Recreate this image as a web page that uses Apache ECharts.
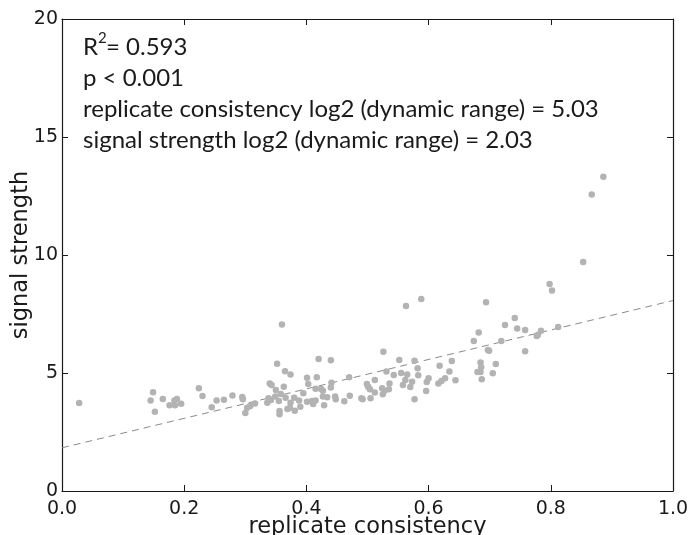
<!DOCTYPE html>
<html>
<head>
<meta charset="utf-8">
<script src="https://cdn.jsdelivr.net/npm/echarts@6/dist/echarts.min.js"></script>
<style>
html,body{margin:0;padding:0;background:#fff;}
#chart{width:689px;height:535px;}
</style>
</head>
<body>
<div id="chart"></div>
<script>
// replicate consistency (x) values
var xValues = [
0.028,0.149,0.145,0.152,0.165,0.176,0.184,0.188,0.185,0.195,0.224,0.230,0.245,0.253,0.265,0.279,0.295,0.296,0.300,0.303,0.308,0.316,
0.352,0.365,0.374,0.340,0.343,0.350,0.363,0.358,0.338,0.336,0.342,0.349,0.355,0.356,0.356,0.366,0.369,0.373,0.374,0.380,0.381,0.388,0.390,0.395,
0.401,0.403,0.401,0.409,0.411,0.415,0.417,0.420,0.415,0.424,0.427,0.427,0.429,0.434,0.440,0.441,0.440,0.447,0.448,0.462,0.470,0.471,
0.490,0.492,0.499,0.501,0.504,0.505,0.512,0.512,0.526,0.524,0.525,0.528,0.531,0.535,0.536,0.543,0.552,0.555,0.558,0.562,0.565,0.570,0.573,
0.577,0.577,0.582,0.583,0.596,0.597,0.600,0.618,0.616,0.621,0.627,0.634,0.360,0.563,0.588,
0.853,0.798,0.802,0.694,0.741,0.725,0.745,0.758,0.784,0.777,0.779,0.812,0.682,0.674,0.719,0.697,0.699,0.758,0.685,0.686,0.710,0.680,0.685,
0.687,0.705,0.638,0.644,0.886,0.867
];
// signal strength (y) values
var yValues = [
3.73,4.18,3.84,3.36,3.90,3.63,3.84,3.90,3.63,3.70,4.35,4.03,3.55,3.83,3.87,4.05,3.98,3.89,3.31,3.53,3.60,3.71,
5.39,5.07,4.94,4.56,4.49,4.28,4.42,4.11,3.93,3.74,3.86,4.00,3.81,3.39,3.25,3.95,3.47,3.53,3.74,3.95,3.40,3.83,3.57,4.14,
4.80,4.53,3.78,3.81,3.69,3.83,4.82,5.59,4.33,4.32,4.25,4.00,3.63,3.97,5.54,4.59,4.39,4.00,3.89,3.80,4.82,4.04,
3.93,3.89,4.53,4.42,4.31,3.93,4.70,4.17,5.90,4.35,4.10,4.25,5.06,4.31,4.56,4.92,5.55,5.00,4.49,4.70,4.94,4.41,4.63,
5.52,3.89,5.20,4.90,4.24,4.62,4.78,5.31,4.56,4.66,4.78,5.06,7.05,7.84,8.14,
9.70,8.77,8.50,8.00,7.33,7.03,6.89,6.82,6.79,6.57,6.62,6.95,6.72,6.36,6.36,5.97,5.94,5.92,5.45,5.24,5.38,5.04,5.04,
4.73,4.99,5.51,4.69,13.32,12.56
];
// regression line endpoints
var fitX = [0, 1];
var fitY = [1.83, 8.07];

var xTicks = ['0.0','0.2','0.4','0.6','0.8','1.0'];
var yTicks = ['0','5','10','15','20'];

var annotationLines = [
  'p < 0.001',
  'replicate consistency log2 (dynamic range) = 5.03',
  'signal strength log2 (dynamic range) = 2.03'
];
var r2Value = '= 0.593';

var points = xValues.map(function(x, i){ return [x, yValues[i]]; });
var fitData = fitX.map(function(x, i){ return [x, fitY[i]]; });

var chart = echarts.init(document.getElementById('chart'), null, {renderer:'canvas'});
var axisLineStyle = {color:'#1a1a1a', width:1.2};
var tickStyle = {color:'#1a1a1a', width:1};
var tickFont = {fontFamily:'DejaVu Sans', fontSize:19, color:'#1a1a1a'};
var annFont = 'Lato';
var annSize = 24;

var option = {
  backgroundColor:'#fff',
  animation:false,
  grid:{left:62, right:16, top:19, bottom:44, containLabel:false, outerBoundsMode:'none'},
  xAxis:[{
    type:'value', min:0, max:1, interval:0.2, position:'bottom',
    name:'replicate consistency', nameLocation:'middle', nameGap:25, nameMoveOverlap:false,
    nameTextStyle:{fontFamily:'DejaVu Sans', fontSize:22.5, color:'#1a1a1a'},
    axisLine:{show:true, onZero:false, lineStyle:axisLineStyle},
    axisTick:{show:true, inside:true, length:6, lineStyle:tickStyle},
    axisLabel:Object.assign({margin:9, formatter:function(v){ return xTicks[Math.round(v/0.2)]; }}, tickFont),
    splitLine:{show:false}
  },{
    type:'value', min:0, max:1, interval:0.2, position:'top',
    axisLine:{show:true, onZero:false, lineStyle:axisLineStyle},
    axisTick:{show:true, inside:true, length:6, lineStyle:tickStyle},
    axisLabel:{show:false}, splitLine:{show:false}
  }],
  yAxis:[{
    type:'value', min:0, max:20, interval:5, position:'left',
    name:'signal strength', nameLocation:'middle', nameGap:29, nameMoveOverlap:false,
    nameTextStyle:{fontFamily:'DejaVu Sans', fontSize:22.5, color:'#1a1a1a'},
    axisLine:{show:true, onZero:false, lineStyle:axisLineStyle},
    axisTick:{show:true, inside:true, length:6, lineStyle:tickStyle},
    axisLabel:Object.assign({margin:4, formatter:function(v){ return yTicks[Math.round(v/5)]; }}, tickFont),
    splitLine:{show:false}
  },{
    type:'value', min:0, max:20, interval:5, position:'right',
    axisLine:{show:true, onZero:false, lineStyle:axisLineStyle},
    axisTick:{show:true, inside:true, length:6, lineStyle:tickStyle},
    axisLabel:{show:false}, splitLine:{show:false}
  }],
  series:[{
    type:'scatter', xAxisIndex:0, yAxisIndex:0,
    data:points, symbol:'circle', symbolSize:6.5,
    itemStyle:{color:'#b3b3b3', opacity:1}
  },{
    type:'line', xAxisIndex:0, yAxisIndex:0,
    data:fitData, symbol:'none',
    lineStyle:{color:'#8a8a8a', width:1, type:[7,5]}, z:1
  }],
  graphic:[
    {type:'text', left:83, top:35, style:{text:'R', font:annSize+'px '+annFont, fill:'#1a1a1a'}},
    {type:'text', left:98, top:31, style:{text:'2', font:'15px '+annFont, fill:'#1a1a1a'}},
    {type:'text', left:106, top:35, style:{text:r2Value, font:annSize+'px '+annFont, fill:'#1a1a1a'}},
    {type:'text', left:83, top:66, style:{text:annotationLines[0], font:annSize+'px '+annFont, fill:'#1a1a1a'}},
    {type:'text', left:83, top:97, style:{text:annotationLines[1], font:annSize+'px '+annFont, fill:'#1a1a1a'}},
    {type:'text', left:83, top:128, style:{text:annotationLines[2], font:annSize+'px '+annFont, fill:'#1a1a1a'}}
  ]
};
chart.setOption(option);
</script>
</body>
</html>
